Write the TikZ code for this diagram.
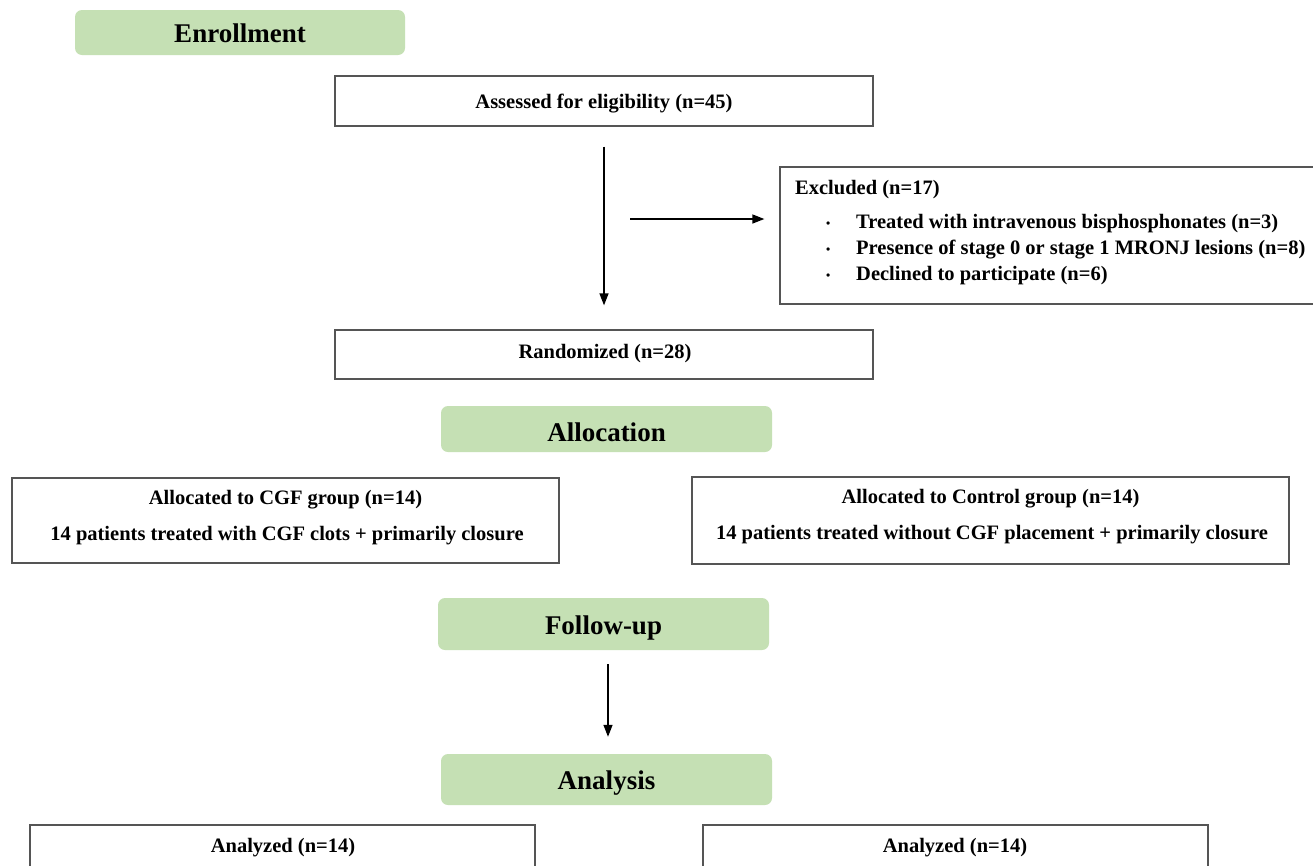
\documentclass[tikz,border=0pt]{standalone}
\usepackage{fontspec}
\setmainfont{Liberation Serif}
\usetikzlibrary{arrows.meta}
\definecolor{phasegreen}{RGB}{197,224,180}
\definecolor{boxgray}{RGB}{85,85,85}
\newcommand{\exclitem}[1]{\makebox[30pt][l]{\raisebox{1pt}{\fontsize{12}{12}\selectfont\textbullet}}#1}

\begin{document}
\begin{tikzpicture}[x=1pt,y=-1pt,
  phase/.style={fill=phasegreen,rounded corners=7pt,inner sep=0pt,font=\fontsize{27}{30}\selectfont\bfseries},
  stagebox/.style={draw=boxgray,line width=1.3pt,fill=white,inner sep=0pt},
  txt/.style={inner sep=0pt,yshift=-3pt,font=\fontsize{20.5}{24}\selectfont\bfseries},
  flow/.style={line width=1.4pt,-{Triangle[length=12pt,width=9pt]}}]
  \clip (0,0) rectangle (1313,865);
  \fill[white] (0,0) rectangle (1313,865);

  \node[phase,minimum width=330pt,minimum height=45pt] (enroll) at (240,32.5) {};
  \node[txt,font=\fontsize{27}{30}\selectfont\bfseries] (enroll-t) at (240,30.5) {Enrollment};
  \node[stagebox,minimum width=538pt,minimum height=50pt] (assess) at (604,101) {};
  \node[txt] (assess-t) at (604,101) {Assessed for eligibility (n=45)};

  \node[stagebox,minimum width=540pt,minimum height=137pt] (excl) at (1050,235.5) {};
  \node[txt,anchor=west] (excl-title) at (795,187) {Excluded (n=17)};
  \node[txt,anchor=west] (excl-a) at (826,221) {\exclitem{Treated with intravenous bisphosphonates (n=3)}};
  \node[txt,anchor=west] (excl-b) at (826,247) {\exclitem{Presence of stage 0 or stage 1 MRONJ lesions (n=8)}};
  \node[txt,anchor=west] (excl-c) at (826,273) {\exclitem{Declined to participate (n=6)}};

  \node[stagebox,minimum width=538pt,minimum height=49pt] (random) at (604,354.5) {};
  \node[txt] (random-t) at (605,351) {Randomized (n=28)};

  \node[phase,minimum width=331pt,minimum height=46pt] (alloc) at (606.5,429) {};
  \node[txt,font=\fontsize{27}{30}\selectfont\bfseries] (alloc-t) at (606.5,429) {Allocation};
  \node[stagebox,minimum width=547pt,minimum height=85pt] (cgf) at (285.5,520.5) {};
  \node[txt] (cgf-a) at (285.5,497) {Allocated to CGF group (n=14)};
  \node[txt] (cgf-b) at (287,533) {14 patients treated with CGF clots + primarily closure};
  \node[stagebox,minimum width=597pt,minimum height=87pt] (ctrl) at (990.5,520.5) {};
  \node[txt] (ctrl-a) at (990.5,496) {Allocated to Control group (n=14)};
  \node[txt] (ctrl-b) at (992,532) {14 patients treated without CGF placement + primarily closure};

  \node[phase,minimum width=331pt,minimum height=52pt] (follow) at (603.5,624) {};
  \node[txt,font=\fontsize{27}{30}\selectfont\bfseries] (follow-t) at (603.5,625) {Follow-up};
  \node[phase,minimum width=331pt,minimum height=51pt] (analysis) at (606.5,779.5) {};
  \node[txt,font=\fontsize{27}{30}\selectfont\bfseries] (analysis-t) at (606.5,780) {Analysis};

  \node[stagebox,minimum width=505pt,minimum height=80pt] (ana-cgf) at (282.5,865) {};
  \node[txt] (ana-cgf-t) at (283,845) {Analyzed (n=14)};
  \node[stagebox,minimum width=505pt,minimum height=80pt] (ana-ctrl) at (955.5,865) {};
  \node[txt] (ana-ctrl-t) at (955,845) {Analyzed (n=14)};

  \coordinate (excl-from) at (630,219);
  \coordinate (fu-from) at (608,664);
  \draw[flow] ([yshift=-20pt]assess.south) -- ([yshift=24pt]random.north);
  \draw[flow,shorten >=15pt] (excl-from) -- (excl-from -| excl.west);
  \draw[flow,shorten >=17pt] (fu-from) -- (fu-from |- analysis.north);
\end{tikzpicture}
\end{document}
